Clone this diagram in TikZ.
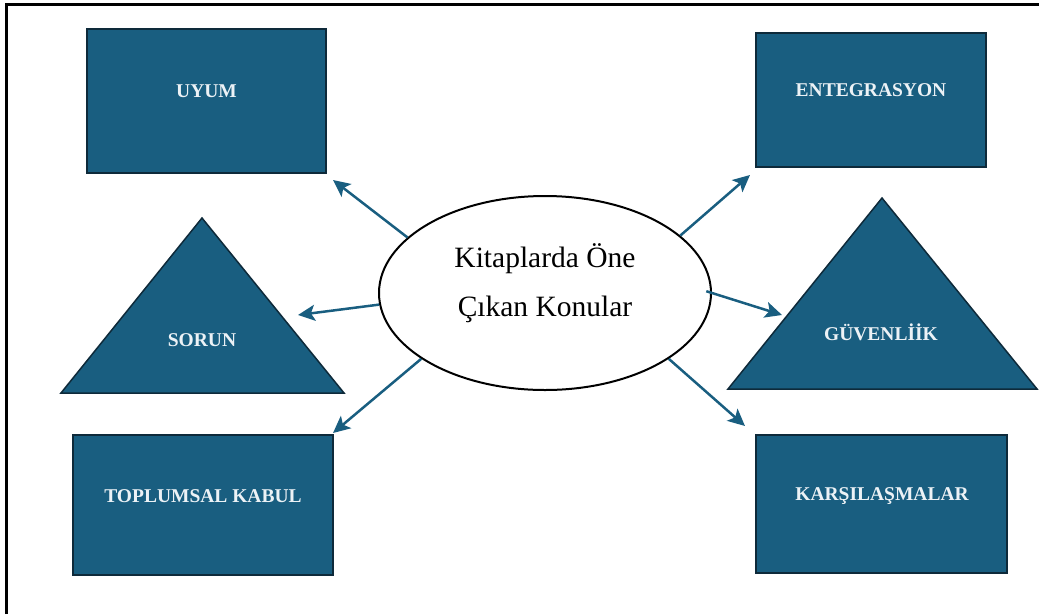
\documentclass[tikz,border=0pt]{standalone}
\usepackage{fontspec}
\setmainfont{Liberation Serif}
\usetikzlibrary{arrows.meta,calc,shapes.geometric}
\definecolor{boxblue}{RGB}{25,94,128}
\definecolor{boxedge}{RGB}{14,42,58}
\definecolor{labelwhite}{RGB}{236,242,246}
\begin{document}
\begin{tikzpicture}[x=1pt,y=-1pt,
  box/.style={draw=boxedge,line width=1.8pt,fill=boxblue,inner sep=0pt},
  lbl/.style={text=labelwhite,font=\fontsize{19.5}{22}\selectfont\bfseries,inner sep=0pt},
  tri/.style={draw=boxedge,line width=1.5pt,fill=boxblue,line join=miter},
  arr/.style={draw=boxblue,line width=2.5pt,-{Stealth[length=17pt,width=16pt,inset=4pt]}}]
\useasboundingbox (0,0) rectangle (1039,614);
% frame
\draw[line width=3pt] (6,614) -- (6,4) -- (1039,4);
% rectangles
\node[box,minimum width=239pt,minimum height=144pt] (uyum) at (206.5,101) {};
\node[lbl] (uyumt) at (206.5,91) {UYUM};
\node[box,minimum width=230pt,minimum height=134pt] (ente) at (871,100) {};
\node[lbl] (entet) at (871,90) {ENTEGRASYON};
\node[box,minimum width=260pt,minimum height=140pt] (topl) at (203,505) {};
\node[lbl] (toplt) at (203,496) {TOPLUMSAL KABUL};
\node[box,minimum width=251pt,minimum height=138pt] (kars) at (881.5,504) {};
\node[lbl] (karst) at (882,496) {KARŞILAŞMALAR};
% triangles
\draw[tri] (202,218) -- (344,393) -- (61,393) -- cycle;
\node[lbl] (sorunt) at (202,340) {SORUN};
\draw[tri] (882,198) -- (1037,389) -- (728,389) -- cycle;
\node[lbl] (guvt) at (881,332) {GÜVENLİİK};
% ellipse
\node[draw,ellipse,line width=2pt,fill=white,minimum width=332pt,minimum height=194pt] (ell) at (545,293) {};
\node[align=center,inner sep=0pt,font=\fontsize{29.5}{49}\selectfont] (ellt) at (545,283) {Kitaplarda Öne\\Çıkan Konular};
% arrow tips
\coordinate (uyumtip) at (333,180);
\coordinate (sorutip) at (298,315);
\coordinate (topltip) at (333,433);
\coordinate (entetip) at (750,175);
\coordinate (guvtip) at (782,315);
\coordinate (karstip) at (745,426);
% arrows
\draw[arr] (ell.158.5) -- (uyumtip);
\draw[arr] (ell.184.7) -- (sorutip);
\draw[arr] (ell.208.2) -- (topltip);
\draw[arr] (ell.23.6) -- (entetip);
\draw[arr,shorten <=-6pt] (ell.0) -- (guvtip);
\draw[arr] (ell.-28) -- (karstip);
\end{tikzpicture}
\end{document}
